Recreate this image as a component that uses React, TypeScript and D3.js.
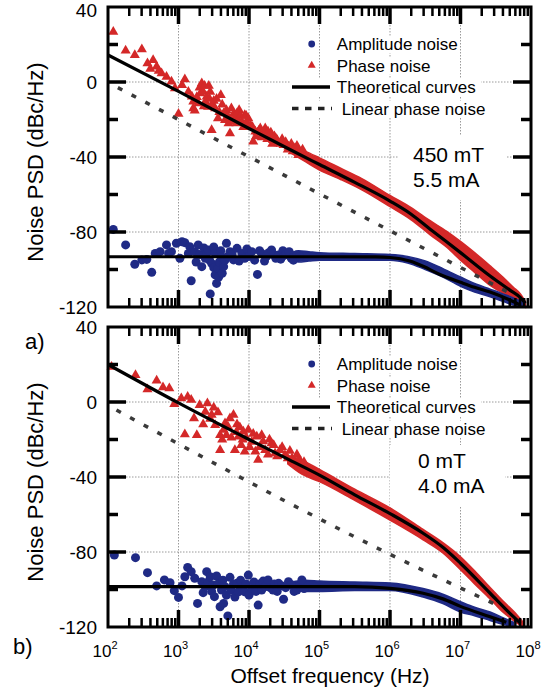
import React from 'react';
import * as d3 from 'd3';

// all points are [log10(frequency / Hz), dB]
const topPhasePts = [
  [2.075, 26.8], [2.25, 16.7], [2.38, 14.4], [2.48, 17.4], [2.56, 10], [2.6, 7], [2.64, 11.7], [2.69, 8.2],
  [2.72, 6], [2.76, 4.6], [2.83, 2.8], [2.9, 0.2], [2.95, -3.4], [3.0, -17], [3.05, -1.6], [3.09, 1.4],
  [3.14, -5.2], [3.19, -7.8], [3.21, -10.5], [3.21, -14], [3.23, -15.3], [3.26, -8], [3.28, -11.4], [3.3, -3],
  [3.31, -6], [3.33, -0.7], [3.35, -5.2], [3.36, -13], [3.37, -2], [3.38, -10.5], [3.4, -7.8], [3.42, -13.2],
  [3.43, -2], [3.44, -9], [3.45, -5.2], [3.47, -25.6], [3.48, -12], [3.5, -10], [3.52, -14], [3.54, -9],
  [3.56, -19.4], [3.58, -16], [3.6, -7], [3.62, -12], [3.64, -16.7], [3.66, -20.3], [3.68, -15], [3.7, -18],
  [3.71, -22], [3.73, -27.4], [3.75, -14], [3.76, -21], [3.78, -17], [3.8, -19.4], [3.82, -22], [3.83, -16.7],
  [3.85, -20.3], [3.86, -15], [3.88, -18], [3.9, -21.2], [3.92, -24], [3.94, -17.6], [3.96, -18], [3.97, -22],
  [3.99, -19.4], [4.02, -23], [4.05, -24], [4.06, -31.8], [4.09, -26.5], [4.1, -29], [4.12, -27], [4.14, -26],
  [4.16, -24.7], [4.18, -29.5], [4.2, -28], [4.22, -27.5], [4.23, -24.7], [4.26, -30.5], [4.27, -26.5],
  [4.3, -29.2], [4.31, -27], [4.33, -33], [4.34, -31], [4.36, -29], [4.38, -30], [4.4, -31], [4.42, -32.7],
  [4.45, -33], [4.47, -30.5], [4.49, -33.6], [4.52, -32], [4.55, -36], [4.56, -34.5], [4.6, -33], [4.62, -37],
  [4.65, -35.4], [4.68, -34], [4.7, -39], [4.72, -37.2], [4.76, -36],
];
const topAmpPts = [
  [2.075, -78.6], [2.25, -86.9], [2.38, -97.2], [2.48, -94.9], [2.55, -94.6], [2.62, -101.5], [2.67, -91.4],
  [2.74, -90.5], [2.83, -86.9], [2.86, -91.4], [2.9, -90.5], [2.97, -86], [3.02, -94], [3.05, -85.2],
  [3.09, -85.7], [3.14, -91.4], [3.16, -87.8], [3.18, -106], [3.23, -90.5], [3.25, -96], [3.28, -86.9],
  [3.3, -92], [3.33, -98.5], [3.36, -88.5], [3.38, -94], [3.4, -91.4], [3.42, -89.6], [3.44, -95], [3.45, -113],
  [3.47, -96.7], [3.5, -88], [3.5, -99], [3.52, -102.9], [3.52, -91.4], [3.54, -107.4], [3.56, -99.4],
  [3.57, -104], [3.58, -96], [3.6, -90], [3.61, -93.2], [3.62, -102], [3.64, -98.5], [3.66, -95], [3.68, -86],
  [3.7, -93], [3.73, -90.5], [3.76, -92], [3.78, -94.9], [3.83, -88.7], [3.86, -95.5], [3.9, -91.4],
  [3.94, -94], [3.97, -89], [4.0, -93], [4.04, -90.5], [4.08, -95], [4.12, -102.6], [4.15, -90], [4.18, -91.4],
  [4.22, -95.5], [4.25, -93], [4.28, -91], [4.32, -89.6], [4.35, -92], [4.38, -94], [4.42, -92.3],
  [4.45, -94.5], [4.48, -90], [4.5, -92.5], [4.53, -91.4], [4.57, -90.5], [4.6, -94], [4.63, -95],
  [4.68, -92.3], [4.72, -93],
];
// dense part of the measurement: [log f, upper dB, lower dB]
const topPhaseBand = [
  [4.6, -34.5, -38], [4.8, -37, -42.5], [5.0, -40.5, -47], [5.3, -46, -52], [5.6, -51.5, -57.5],
  [6.0, -60.5, -66.5], [6.3, -67, -73.5], [6.57, -74, -81.5], [6.8, -79.5, -88], [7.0, -85, -95],
  [7.2, -91, -101.5], [7.42, -98, -108.5], [7.6, -104, -112.5], [7.75, -109.5, -115], [7.85, -113, -117.5],
  [7.92, -117, -120],
];
const topAmpBand = [
  [4.6, -91, -95], [4.7, -90, -96], [4.85, -90.5, -95.5], [5.0, -91, -95], [5.5, -91.5, -95],
  [6.0, -92, -95], [6.25, -93, -96.5], [6.5, -95.5, -100], [6.75, -99.5, -104], [7.0, -104, -109],
  [7.2, -107.5, -112], [7.42, -110.5, -114.5], [7.6, -113, -117], [7.8, -116, -119.5], [7.9, -118, -120],
];
const topPhaseTheory = [
  [2, 14.4], [3, -5], [4, -24.8], [4.58, -36], [5, -44], [5.5, -53.5], [6, -63.5], [6.3, -70.5],
  [6.57, -78.5], [7, -91], [7.42, -103.5], [7.7, -111], [7.85, -115], [7.92, -118],
];
const topAmpTheory = [
  [2, -93.2], [5, -93.2], [5.8, -93.3], [6, -93.6], [6.28, -95.5], [6.47, -98.3], [6.7, -102.5],
  [7, -106.8], [7.2, -109.5], [7.42, -112], [7.7, -116.3], [7.85, -119],
];
const topLinear = [[2.14, -3], [6, -79.3], [7.72, -113]];

const botPhasePts = [
  [2.05, 18.8], [2.39, 14.4], [2.56, 6.8], [2.69, 11.4], [2.78, 7.8], [2.87, 7.3], [2.94, -1.1], [3.04, 2],
  [3.09, -17.2], [3.13, 2.8], [3.18, 1.1], [3.22, -8.7], [3.26, -17.6], [3.3, -1.6], [3.35, -11.9],
  [3.38, -5.2], [3.41, -0.7], [3.45, -9], [3.47, -6.9], [3.5, -3], [3.52, -12.3], [3.56, -5.5], [3.59, -25.6],
  [3.59, -17.6], [3.62, -20], [3.64, -14.9], [3.66, -11.4], [3.68, -17.6], [3.7, -13], [3.73, -8.7],
  [3.75, -19], [3.78, -6.9], [3.8, -25.6], [3.82, -16], [3.83, -11.9], [3.85, -18.5], [3.87, -13.5],
  [3.89, -23], [3.91, -20], [3.92, -15.8], [3.94, -26.5], [3.96, -19], [3.99, -14.9], [4.01, -24],
  [4.04, -21.2], [4.06, -17], [4.09, -26.5], [4.11, -18.5], [4.13, -30.9], [4.15, -24], [4.18, -17.6],
  [4.2, -21], [4.23, -25.6], [4.27, -28], [4.29, -20], [4.32, -22], [4.35, -23], [4.37, -27.4], [4.4, -29],
  [4.44, -25.6], [4.47, -24], [4.51, -28.3], [4.55, -30], [4.58, -26], [4.61, -30], [4.65, -33], [4.68, -28],
  [4.7, -30.9], [4.73, -31.5], [4.75, -34.5], [4.78, -32],
];
const botAmpPts = [
  [2.09, -81.6], [2.39, -83], [2.56, -91], [2.69, -98.1], [2.8, -94.9], [2.88, -96.4], [2.94, -100.6],
  [3.0, -104.2], [3.05, -98.1], [3.09, -93.2], [3.13, -88.2], [3.18, -90.5], [3.23, -94], [3.27, -107.4],
  [3.33, -95.8], [3.35, -101.7], [3.38, -98.5], [3.4, -90.5], [3.42, -96], [3.45, -93.2], [3.47, -101],
  [3.49, -97.6], [3.51, -103.8], [3.54, -92.8], [3.56, -97], [3.59, -109.2], [3.61, -100.3], [3.63, -95],
  [3.64, -107.4], [3.66, -98.5], [3.68, -103], [3.7, -114.1], [3.73, -93.5], [3.75, -100.3], [3.78, -97],
  [3.8, -104], [3.83, -96.7], [3.85, -101.2], [3.88, -95], [3.9, -98.5], [3.94, -101.2], [3.96, -97],
  [3.99, -92.3], [4.0, -103], [4.04, -99.4], [4.07, -96], [4.1, -101], [4.13, -108.3], [4.15, -97],
  [4.18, -100.3], [4.2, -95.5], [4.23, -98.5], [4.27, -94.9], [4.3, -99], [4.34, -100.3], [4.36, -97],
  [4.4, -101], [4.42, -96.7], [4.46, -98], [4.49, -105.2], [4.52, -99], [4.56, -95.8], [4.6, -97.5],
  [4.64, -101], [4.68, -100.3], [4.72, -98], [4.75, -94.9], [4.78, -99.5],
];
const botPhaseBand = [
  [4.55, -28.5, -33], [4.75, -31, -38.5], [5.0, -36, -42.5], [5.5, -46.5, -52.5], [6.0, -56.5, -63],
  [6.47, -68, -73.5], [6.75, -75, -80.5], [7.0, -82.5, -89.5], [7.2, -90, -97], [7.42, -99, -105],
  [7.6, -106, -112], [7.75, -111.5, -116.5], [7.88, -117, -120],
];
const botAmpBand = [
  [4.6, -96, -100], [4.8, -95, -101], [5.0, -95.5, -101], [5.5, -96, -100.5], [6.0, -96.5, -100.5],
  [6.47, -99.5, -104], [6.75, -102.5, -107.5], [7.0, -106.5, -112], [7.2, -109.5, -114], [7.42, -112, -116.5],
  [7.6, -115, -118.5], [7.75, -117.5, -120],
];
const botPhaseTheory = [
  [2, 20], [3, -0.5], [4, -20], [4.58, -31], [5, -39], [5.5, -49.5], [6, -59.5], [6.47, -70],
  [6.75, -77.5], [7, -86], [7.42, -102], [7.75, -114.5], [7.85, -118],
];
const botAmpTheory = [
  [2, -98.5], [5.5, -98.5], [6, -99.4], [6.47, -102], [6.75, -105], [7, -109], [7.42, -114.5], [7.65, -117.5],
];
const botLinear = [[2.12, -4.3], [5.96, -80.5], [7.5, -108]];

const yTickLabels = [40, 0, -40, -80, -120];
const xTickExps = [2, 3, 4, 5, 6, 7, 8];
const legendLabels = ['Amplitude noise', 'Phase noise', 'Theoretical curves', 'Linear phase noise'];

const RED = '#d42828';
const BLUE = '#1f2a85';
const FONT = 'Liberation Sans, Arial, sans-serif';
const L = 108;
const R = 531;
const H = 300;

const x = d3.scaleLog().domain([1e2, 1e8]).range([L, R]);
const fx = (lf: number) => x(Math.pow(10, lf));

type PanelProps = {
  top: number;
  phasePts: number[][];
  ampPts: number[][];
  phaseBand: number[][];
  ampBand: number[][];
  phaseTheory: number[][];
  ampTheory: number[][];
  linear: number[][];
  note: string[];
  noteX: number;
  noteY: number;
  noteBox: number[];
  showX: boolean;
};

function Panel(p: PanelProps) {
  const y = d3.scaleLinear().domain([-120, 40]).range([p.top + H, p.top]);
  const line = d3.line<number[]>().x(d => fx(d[0])).y(d => y(d[1])).curve(d3.curveMonotoneX);
  const band = d3.area<number[]>().x(d => fx(d[0])).y0(d => y(d[2])).y1(d => y(d[1])).curve(d3.curveMonotoneX);
  const tri = d3.symbol(d3.symbolTriangle, 44)();
  const triSmall = d3.symbol(d3.symbolTriangle, 28)();
  const xt = x.ticks();
  const yt = d3.range(-100, 40, 20);
  const isMajor = (t: number) => Math.abs(Math.log10(t) - Math.round(Math.log10(t))) < 1e-6;
  const rowY = (i: number) => p.top + 37 + i * 21.5;
  const boxes = [[334, 126], [334, 96], [291, 190], [291, 197]];

  return (
    <g>
      {/* grid */}
      <g stroke="#9a9a9a" strokeWidth={1} strokeDasharray="1.5 1.5">
        {[3, 4, 5, 6, 7].map(k => (
          <line key={'gx' + k} x1={fx(k)} x2={fx(k)} y1={p.top} y2={p.top + H} />
        ))}
        {[0, -40, -80].map(v => (
          <line key={'gy' + v} x1={L} x2={R} y1={y(v)} y2={y(v)} />
        ))}
      </g>

      {/* legend + note backgrounds */}
      <g fill="#fff">
        {boxes.map((b, i) => (
          <rect key={'lb' + i} x={b[0]} y={rowY(i) - 8} width={b[1]} height={17} />
        ))}
        <rect x={p.noteBox[0]} y={p.noteBox[1]} width={p.noteBox[2]} height={p.noteBox[3]} />
      </g>

      {/* measured data */}
      <path d={band(p.phaseBand) || ''} fill={RED} stroke={RED} strokeWidth={1.5} />
      {p.phasePts.map((d, i) => (
        <path key={'pp' + i} d={tri || ''} transform={`translate(${fx(d[0])},${y(d[1])})`} fill={RED} />
      ))}
      <path d={band(p.ampBand) || ''} fill={BLUE} stroke={BLUE} strokeWidth={1.5} />
      {p.ampPts.map((d, i) => (
        <circle key={'ap' + i} cx={fx(d[0])} cy={y(d[1])} r={4.5} fill={BLUE} />
      ))}

      {/* curves */}
      <path d={line(p.linear) || ''} fill="none" stroke="#3a3a3a" strokeWidth={3.5} strokeDasharray="5 10.5" />
      <path d={line(p.phaseTheory) || ''} fill="none" stroke="#000" strokeWidth={3.2} />
      <path d={line(p.ampTheory) || ''} fill="none" stroke="#000" strokeWidth={3.2} />

      {/* ticks */}
      <g stroke="#000">
        {xt.filter(t => t > 1e2 && t < 1e8).map((t, i) => {
          const len = isMajor(t) ? 17 : 9;
          const w = isMajor(t) ? 3.5 : 2.5;
          return (
            <g key={'xt' + i} strokeWidth={w}>
              <line x1={x(t)} x2={x(t)} y1={p.top} y2={p.top + len} />
              <line x1={x(t)} x2={x(t)} y1={p.top + H} y2={p.top + H - len} />
            </g>
          );
        })}
        {yt.map(v => {
          const len = v % 40 === 0 ? 18 : 10;
          return (
            <g key={'yt' + v} strokeWidth={3.5}>
              <line x1={L} x2={L + len} y1={y(v)} y2={y(v)} />
              <line x1={R} x2={R - len} y1={y(v)} y2={y(v)} />
            </g>
          );
        })}
      </g>
      <rect x={L} y={p.top} width={R - L} height={H} fill="none" stroke="#000" strokeWidth={3} />

      {/* y tick labels */}
      <g fontFamily={FONT} fontSize={19} textAnchor="end" fill="#000">
        {yTickLabels.map(v => (
          <text key={'yl' + v} x={97} y={Math.max(y(v), 10)} dy="0.35em">{v}</text>
        ))}
      </g>

      {p.showX && (
        <g fontFamily={FONT} fill="#000">
          {xTickExps.map(k => (
            <text key={'xl' + k} x={fx(k) - 3} y={657} fontSize={17} textAnchor="middle">
              10<tspan fontSize={11} dy={-8}>{k}</tspan>
            </text>
          ))}
        </g>
      )}

      <text
        transform={`translate(43,${p.top + 155}) rotate(-90)`}
        fontFamily={FONT} fontSize={22} textAnchor="middle" fill="#000"
      >
        Noise PSD (dBc/Hz)
      </text>

      {/* legend */}
      <g fontFamily={FONT} fontSize={17} fill="#000">
        <circle cx={311.7} cy={rowY(0)} r={3.4} fill={BLUE} />
        <path d={triSmall || ''} transform={`translate(311.7,${rowY(1)})`} fill={RED} />
        <line x1={292} x2={330} y1={rowY(2)} y2={rowY(2)} stroke="#000" strokeWidth={3.5} />
        <line x1={292} x2={332} y1={rowY(3)} y2={rowY(3)} stroke="#222" strokeWidth={3.5} strokeDasharray="6.5 6.5" />
        {legendLabels.map((s, i) => (
          <text key={'lg' + i} x={i === 3 ? 341.7 : 336.8} y={rowY(i) + 6}>{s}</text>
        ))}
      </g>

      {/* field / current note */}
      <g fontFamily={FONT} fontSize={21} fill="#000">
        {p.note.map((s, i) => (
          <text key={'nt' + i} x={p.noteX} y={p.noteY + i * 25}>{s}</text>
        ))}
      </g>
    </g>
  );
}

export default function App() {
  return (
    <svg
      width={559}
      height={690}
      viewBox="0 0 559 690"
      style={{ position: 'absolute', left: 0, top: 0, background: '#fff' }}
    >
      <Panel
        top={7}
        phasePts={topPhasePts}
        ampPts={topAmpPts}
        phaseBand={topPhaseBand}
        ampBand={topAmpBand}
        phaseTheory={topPhaseTheory}
        ampTheory={topAmpTheory}
        linear={topLinear}
        note={['450 mT', '5.5 mA']}
        noteX={413}
        noteY={162}
        noteBox={[398, 135, 108, 65]}
        showX={false}
      />
      <Panel
        top={327}
        phasePts={botPhasePts}
        ampPts={botAmpPts}
        phaseBand={botPhaseBand}
        ampBand={botAmpBand}
        phaseTheory={botPhaseTheory}
        ampTheory={botAmpTheory}
        linear={botLinear}
        note={['0 mT', '4.0 mA']}
        noteX={418}
        noteY={468}
        noteBox={[390, 445, 115, 62]}
        showX={true}
      />
      <text x={25} y={349} fontFamily={FONT} fontSize={22} fill="#000">a)</text>
      <text x={13} y={654} fontFamily={FONT} fontSize={22} fill="#000">b)</text>
      <text x={330} y={683} fontFamily={FONT} fontSize={21} textAnchor="middle" fill="#000">
        Offset frequency (Hz)
      </text>
    </svg>
  );
}
